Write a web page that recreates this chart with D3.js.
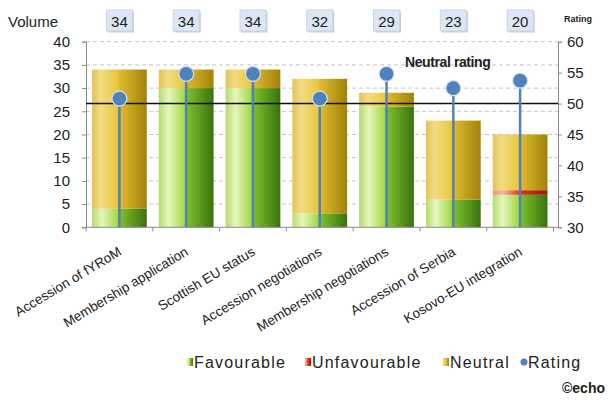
<!DOCTYPE html>
<html>
<head>
<meta charset="utf-8">
<script src="https://cdn.jsdelivr.net/npm/d3@7"></script>
<style>
  body { margin: 0; background: #fff; }
  svg text { font-family: "Liberation Sans", Arial, sans-serif; fill: #222; }
</style>
</head>
<body>
<div class="chart"></div>
<script>
var categories = ["Accession of fYRoM", "Membership application", "Scottish EU status",
  "Accession negotiations", "Membership negotiations", "Accession of Serbia", "Kosovo-EU integration"];
var favourable = [4, 30, 30, 3, 26, 6, 7];
var unfavourable = [0, 0, 0, 0, 0, 0, 1];
var neutral = [30, 4, 4, 29, 3, 17, 12];
var volume = [34, 34, 34, 32, 29, 23, 20];
var rating = [50.8, 54.8, 54.8, 50.8, 54.8, 52.5, 53.7];
var neutralRating = 50;
var volumeTicks = [0, 5, 10, 15, 20, 25, 30, 35, 40];
var ratingTicks = [30, 35, 40, 45, 50, 55, 60];
var legendItems = ["Favourable", "Unfavourable", "Neutral", "Rating"];

var width = 610, height = 401;
var margin = {left: 86, right: 52, top: 41.7, bottom: 173.7};
var bandRight = 553.5;

var svg = d3.select(".chart").append("svg")
    .attr("width", width)
    .attr("height", height);

var defs = svg.append("defs");

function gradient(id, stops){
  var g = defs.append("linearGradient").attr("id", id)
      .attr("x1", "0%").attr("x2", "100%").attr("y1", "0%").attr("y2", "0%");
  stops.forEach(function(s){
    g.append("stop").attr("offset", s[0]).attr("stop-color", s[1]);
  });
}
gradient("g-fav", [["0%", "#b4dc6c"], ["18%", "#e6f6bc"], ["46%", "#a4d948"], ["52%", "#7dbf2a"], ["100%", "#3a7210"]]);
gradient("g-unf", [["0%", "#f0907a"], ["18%", "#f8b8a0"], ["46%", "#e8402a"], ["52%", "#d8301c"], ["100%", "#9a1a0c"]]);
gradient("g-neu", [["0%", "#e0c458"], ["16%", "#f2dc84"], ["46%", "#e8c83e"], ["52%", "#ddb92a"], ["100%", "#a0820c"]]);

var x = d3.scaleBand()
    .domain(categories)
    .range([margin.left, bandRight])
    .paddingInner(0.18)
    .paddingOuter(0.09);

var y = d3.scaleLinear()
    .domain([0, 40])
    .range([height - margin.bottom, margin.top]);

var yR = d3.scaleLinear()
    .domain([30, 60])
    .range([height - margin.bottom, margin.top]);

// gridlines
svg.append("g").selectAll("line")
    .data(volumeTicks.slice(1))
  .enter().append("line")
    .attr("x1", margin.left).attr("x2", width - margin.right)
    .attr("y1", function(d){ return y(d); })
    .attr("y2", function(d){ return y(d); })
    .attr("stroke", "#c4c4c4")
    .attr("stroke-dasharray", "4,3");

// stacked bars
var rows = categories.map(function(c, i){
  return {cat: c, fav: favourable[i], unf: unfavourable[i], neu: neutral[i]};
});
var stacked = d3.stack().keys(["fav", "unf", "neu"])(rows);

svg.append("g").selectAll("g")
    .data(stacked)
  .enter().append("g")
    .attr("fill", function(d){ return "url(#g-" + d.key + ")"; })
  .selectAll("rect")
    .data(function(d){ return d; })
  .enter().append("rect")
    .attr("x", function(d){ return x(d.data.cat); })
    .attr("width", x.bandwidth())
    .attr("y", function(d){ return y(d[1]); })
    .attr("height", function(d){ return y(d[0]) - y(d[1]); });

// axes
var axisLeft = svg.append("g")
    .attr("transform", "translate(" + margin.left + ",0)")
    .call(d3.axisLeft(y).tickValues(volumeTicks).tickSize(4).tickPadding(12));

var axisRight = svg.append("g")
    .attr("transform", "translate(" + (width - margin.right) + ",0)")
    .call(d3.axisRight(yR).tickValues(ratingTicks).tickSize(4).tickPadding(5));

svg.append("line")
    .attr("x1", margin.left).attr("x2", width - margin.right)
    .attr("y1", y(0)).attr("y2", y(0))
    .attr("stroke", "#8a8a8a");

[axisLeft, axisRight].forEach(function(a){
  a.selectAll("path, line").attr("stroke", "#8a8a8a");
  a.selectAll("text").style("font-size", "15px").attr("fill", "#222");
});

// category separators on bottom axis
svg.append("g").selectAll("line")
    .data(categories.concat(["end"]))
  .enter().append("line")
    .attr("x1", function(d, i){ return margin.left + i * x.step(); })
    .attr("x2", function(d, i){ return margin.left + i * x.step(); })
    .attr("y1", y(0)).attr("y2", y(0) + 4)
    .attr("stroke", "#8a8a8a");

// category labels
svg.append("g").selectAll("text")
    .data(categories)
  .enter().append("text")
    .attr("transform", function(d){ return "translate(" + (x(d) + x.bandwidth() / 2 + 3) + "," + (y(0) + 27) + ") rotate(-31)"; })
    .style("text-anchor", "end")
    .style("font-size", "13.5px")
    .text(function(d){ return d; });

// neutral rating line
svg.append("line")
    .attr("x1", margin.left).attr("x2", width - margin.right)
    .attr("y1", yR(neutralRating)).attr("y2", yR(neutralRating))
    .attr("stroke", "#111")
    .attr("stroke-width", 1.6);

svg.append("text")
    .attr("x", 405).attr("y", 67)
    .style("font-size", "14px")
    .style("font-weight", "bold")
    .style("letter-spacing", "-0.4px")
    .text("Neutral rating");

// rating lollipops
var lolli = svg.append("g").selectAll("g")
    .data(rating)
  .enter().append("g");

lolli.append("line")
    .attr("x1", function(d, i){ return x(categories[i]) + x.bandwidth() / 2; })
    .attr("x2", function(d, i){ return x(categories[i]) + x.bandwidth() / 2; })
    .attr("y1", function(d){ return yR(d); })
    .attr("y2", y(0))
    .attr("stroke", "#4f81bd")
    .attr("stroke-width", 2.5);

lolli.append("circle")
    .attr("cx", function(d, i){ return x(categories[i]) + x.bandwidth() / 2; })
    .attr("cy", function(d){ return yR(d); })
    .attr("r", 7.5)
    .attr("fill", "#4f81bd")
    .attr("stroke", "#d6e2f2")
    .attr("stroke-width", 1.2);

// volume boxes
var boxes = svg.append("g").selectAll("g")
    .data(volume)
  .enter().append("g")
    .attr("transform", function(d, i){ return "translate(" + (x(categories[i]) + x.bandwidth() / 2) + ",0)"; });

boxes.append("rect")
    .attr("x", -11.5).attr("y", 11.5)
    .attr("width", 26).attr("height", 21)
    .attr("fill", "#c4cad2");

boxes.append("rect")
    .attr("x", -13).attr("y", 10)
    .attr("width", 26).attr("height", 21)
    .attr("fill", "#dde7f3")
    .attr("stroke", "#cbd6e4");

boxes.append("text")
    .attr("y", 26.5)
    .style("text-anchor", "middle")
    .style("font-size", "15px")
    .attr("fill", "#333")
    .text(function(d){ return d; });

// axis titles
svg.append("text")
    .attr("x", 8).attr("y", 27)
    .style("font-size", "15px")
    .text("Volume");

svg.append("text")
    .attr("x", 564).attr("y", 22)
    .style("font-size", "9px")
    .style("font-weight", "bold")
    .text("Rating");

// legend
var legendX = [187, 305, 443, 521];
var legendFill = ["url(#g-fav)", "url(#g-unf)", "url(#g-neu)", "#4f81bd"];
var legend = svg.append("g").selectAll("g")
    .data(legendItems)
  .enter().append("g")
    .attr("transform", function(d, i){ return "translate(" + legendX[i] + ",362)"; });

legend.each(function(d, i){
  var g = d3.select(this);
  if (d == "Rating") {
    g.append("circle").attr("cx", 3).attr("cy", 0).attr("r", 3.5).attr("fill", legendFill[i]);
  } else {
    g.append("rect").attr("x", 0).attr("y", -4).attr("width", 6).attr("height", 8).attr("fill", legendFill[i]);
  }
  g.append("text")
      .attr("x", 7).attr("y", 6)
      .style("font-size", "16px")
      .style("letter-spacing", "1.2px")
      .text(d);
});

svg.append("text")
    .attr("x", 605).attr("y", 393)
    .style("text-anchor", "end")
    .style("font-size", "14px")
    .style("font-weight", "bold")
    .text("\u00a9echo");
</script>
</body>
</html>
